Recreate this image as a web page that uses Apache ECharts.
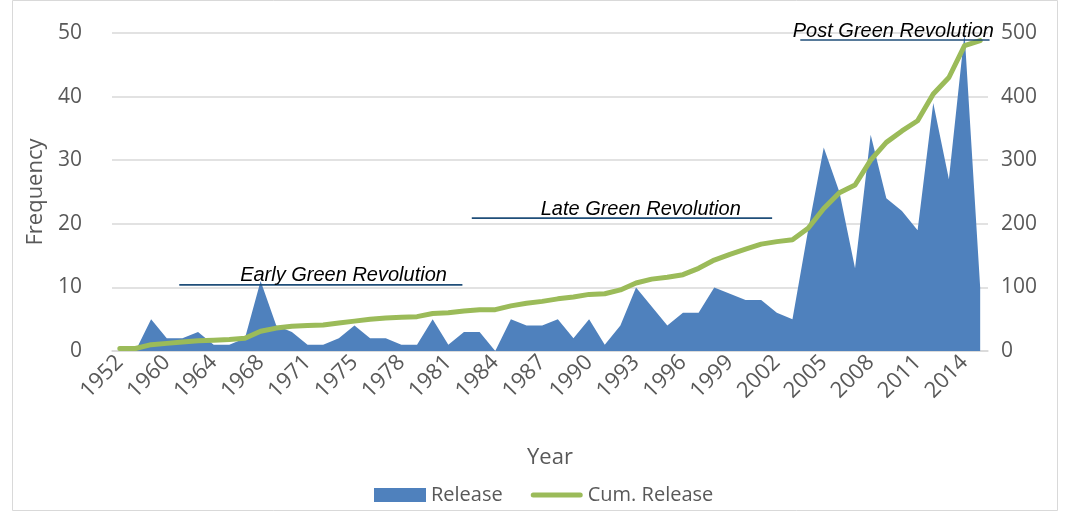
<!DOCTYPE html>
<html>
<head>
<meta charset="utf-8">
<script src="https://cdn.jsdelivr.net/npm/echarts@6/dist/echarts.min.js"></script>
<style>
html,body{margin:0;padding:0;background:#fff;}
#chart{width:1067px;height:512px;}
</style>
</head>
<body>
<div id="chart"></div>
<script>
// ---- data ----
var years = ['1952','1954','1957','1960','1961','1962','1964','1965','1966','1968',
  '1969','1970','1971','1972','1973','1975','1976','1977','1978','1979',
  '1980','1981','1982','1983','1984','1985','1986','1987','1988','1989',
  '1990','1991','1992','1993','1994','1995','1996','1997','1998','1999',
  '2000','2001','2002','2003','2004','2005','2006','2007','2008','2009',
  '2010','2011','2012','2013','2014','2015'];
var release = [0,0,5,2,2,3,1,1,2,11,
  4,3,1,1,2,4,2,2,1,1,
  5,1,3,3,0,5,4,4,5,2,
  5,1,4,10,7,4,6,6,10,9,
  8,8,6,5,19,32,25,13,34,24,
  22,19,39,27,50,10];
var cumRelease = [4,4,10,12,14,16,17,18,20,31,
  36,39,40,41,44,47,50,52,53,54,
  59,60,63,65,65,71,75,78,82,85,
  89,90,96,107,113,116,120,130,143,152,
  160,168,172,175,193,224,249,261,300,328,
  346,362,404,430,480,488];
var leftTicks = [0, 50, 10];     // min, max, interval
var rightTicks = [0, 500, 100];
var seriesNames = ['Release', 'Cum. Release'];
// annotation periods: label, start category index, end category index, level (left axis), label centre index
var periodLabels = ['Early Green Revolution', 'Late Green Revolution', 'Post Green Revolution'];
var periodStart = [3.8, 22.5, 43.5];
var periodEnd = [21.9, 41.7, 55.6];
var periodLevel = [10.4, 20.9, 48.9];
var periodLabelAt = [14.3, 33.3, 49.45];

var grey = '#595959';
var font = '"Open Sans", "Noto Sans", sans-serif';
var lineIcon = 'path://M0,0 M52,14 M2.5,4.5 L49.5,4.5 A2.5,2.5 0 0 1 49.5,9.5 L2.5,9.5 A2.5,2.5 0 0 1 2.5,4.5 Z';
var chart = echarts.init(document.getElementById('chart'));
chart.setOption({
  animation: false,
  backgroundColor: '#fff',
  textStyle: {fontFamily: font},
  grid: {left: 112, right: 79, top: 33, bottom: 161, containLabel: false},
  legend: {
    data: [{name: seriesNames[0], icon: 'rect'}, {name: seriesNames[1], icon: lineIcon}],
    left: 369, top: 480,
    itemWidth: 52, itemHeight: 14, itemGap: 28,
    textStyle: {color: grey, fontSize: 20, fontFamily: font}
  },
  xAxis: {
    type: 'category', data: years, boundaryGap: true,
    name: 'Year', nameLocation: 'middle', nameGap: 96,
    nameTextStyle: {color: grey, fontSize: 22, fontFamily: font},
    axisLine: {lineStyle: {color: '#d9d9d9', width: 1.5}},
    axisTick: {show: false},
    axisLabel: {interval: 2, rotate: 45, color: grey, fontSize: 22, margin: 8, fontFamily: font},
    splitLine: {show: false}
  },
  yAxis: [{
    type: 'value', min: leftTicks[0], max: leftTicks[1], interval: leftTicks[2],
    name: 'Frequency', nameLocation: 'middle', nameGap: 63,
    nameTextStyle: {color: grey, fontSize: 22, fontFamily: font},
    axisLine: {show: false}, axisTick: {show: false},
    axisLabel: {color: grey, fontSize: 21, margin: 30, fontFamily: font},
    splitLine: {lineStyle: {color: '#d9d9d9', width: 1.5}}
  }, {
    type: 'value', min: rightTicks[0], max: rightTicks[1], interval: rightTicks[2],
    axisLine: {show: false}, axisTick: {show: false},
    axisLabel: {color: grey, fontSize: 21, margin: 13, fontFamily: font},
    splitLine: {show: false}
  }],
  series: [{
    name: seriesNames[0], type: 'line', data: release, yAxisIndex: 0,
    symbol: 'none', lineStyle: {width: 0, color: '#4f81bd'},
    itemStyle: {color: '#4f81bd'},
    areaStyle: {color: '#4f81bd', opacity: 1}, z: 2
  }, {
    name: seriesNames[1], type: 'line', data: cumRelease, yAxisIndex: 1,
    symbol: 'none', lineStyle: {width: 5, color: '#9bbb59', cap: 'round', join: 'round'},
    itemStyle: {color: '#9bbb59'}, z: 3
  }]
});

function px(idx, val) {
  var i0 = Math.floor(idx);
  var a = chart.convertToPixel({xAxisIndex: 0, yAxisIndex: 0}, [i0, val]);
  var b = chart.convertToPixel({xAxisIndex: 0, yAxisIndex: 0}, [i0 + 1, val]);
  return [a[0] + (idx - i0) * (b[0] - a[0]), a[1]];
}
var els = [{
  type: 'rect', silent: true, z: 0,
  shape: {x: 12.5, y: 0.5, width: 1045, height: 510},
  style: {fill: 'none', stroke: '#d9d9d9', lineWidth: 1}
}];
for (var k = 0; k < periodLabels.length; k++) {
  var p0 = px(periodStart[k], periodLevel[k]);
  var p1 = px(periodEnd[k], periodLevel[k]);
  var pt = px(periodLabelAt[k], periodLevel[k]);
  els.push({
    type: 'line', silent: true, z: 10,
    shape: {x1: p0[0], y1: p0[1], x2: p1[0], y2: p1[1]},
    style: {stroke: '#1f4e79', lineWidth: 1.6}
  });
  els.push({
    type: 'text', silent: true, z: 11,
    x: pt[0], y: pt[1] - 9,
    style: {text: periodLabels[k], fill: '#000', fontSize: 20, fontStyle: 'italic',
      fontFamily: '"Liberation Sans", Arial, sans-serif', align: 'center', verticalAlign: 'middle'}
  });
}
chart.setOption({graphic: {elements: els}});
</script>
</body>
</html>
